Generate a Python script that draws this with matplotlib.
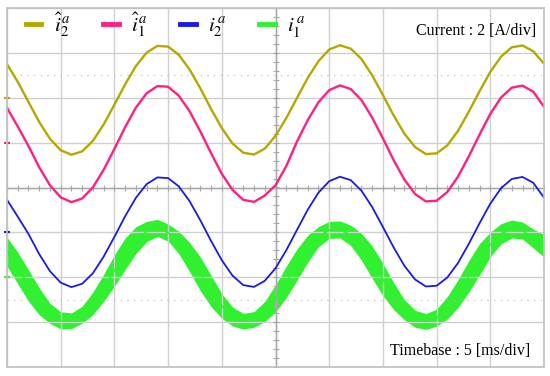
import numpy as np
import matplotlib
matplotlib.use('Agg')
import matplotlib.pyplot as plt

# oscilloscope capture: 5 ms/div, 2 A/div (traces shown with channel offsets)
t_ms = list(range(0, 51))

i2_hat = [5.50, 4.71, 3.81, 2.92, 2.17, 1.66, 1.46, 1.61, 2.08, 2.81,
          3.69, 4.60, 5.41, 6.01, 6.31, 6.28, 5.91, 5.26, 4.42, 3.50,
          2.65, 1.96, 1.55, 1.47, 1.73, 2.30, 3.09, 3.99, 4.88, 5.63,
          6.15, 6.34, 6.19, 5.73, 5.00, 4.12, 3.21, 2.40, 1.80, 1.49,
          1.52, 1.88, 2.53, 3.38, 4.29, 5.15, 5.83, 6.25, 6.33, 6.07, 5.52]

i1_hat = [3.55, 2.72, 1.85, 0.90, 0.10, -0.44, -0.65, -0.49, 0.01, 0.79,
          1.72, 2.69, 3.56, 4.20, 4.52, 4.49, 4.09, 3.40, 2.50, 1.53,
          0.61, -0.11, -0.55, -0.64, -0.36, 0.10, 0.95, 2.05, 3.00, 3.80,
          4.34, 4.55, 4.39, 3.90, 3.12, 2.19, 1.22, 0.35, -0.29, -0.62,
          -0.59, -0.20, 0.49, 1.39, 2.36, 3.28, 4.01, 4.45, 4.54, 4.27, 3.60]

i2 = [-0.55, -1.30, -2.07, -2.97, -3.73, -4.24, -4.44, -4.29, -3.82, -3.08,
      -2.20, -1.28, -0.46, 0.15, 0.45, 0.42, 0.05, -0.61, -1.46, -2.38,
      -3.24, -3.93, -4.35, -4.43, -4.16, -3.60, -2.80, -1.89, -0.99, -0.23,
      0.28, 0.48, 0.33, -0.14, -0.87, -1.76, -2.67, -3.49, -4.10, -4.41,
      -4.38, -4.01, -3.36, -2.51, -1.59, -0.72, -0.03, 0.38, 0.47, 0.21, -0.45]

i1 = [-2.86, -3.59, -4.37, -5.07, -5.61, -5.92, -5.94, -5.67, -5.16, -4.47,
      -3.70, -2.95, -2.35, -1.96, -1.80, -2.01, -2.45, -3.10, -3.85, -4.61,
      -5.28, -5.75, -5.96, -5.88, -5.53, -4.94, -4.21, -3.44, -2.73, -2.19,
      -1.89, -1.87, -2.13, -2.64, -3.33, -4.10, -4.84, -5.45, -5.85, -5.97,
      -5.80, -5.36, -4.72, -3.96, -3.20, -2.54, -2.06, -1.85, -1.92, -2.27, -2.60]

# half height of the switching ripple band on i1
i1_ripple = [0.65, 0.70, 0.70, 0.60, 0.45, 0.38, 0.35, 0.38, 0.50, 0.60,
             0.70, 0.70, 0.60, 0.45, 0.38, 0.38, 0.50, 0.65, 0.75, 0.70,
             0.55, 0.42, 0.35, 0.35, 0.45, 0.60, 0.70, 0.70, 0.60, 0.45,
             0.38, 0.38, 0.45, 0.60, 0.72, 0.72, 0.60, 0.45, 0.38, 0.35,
             0.38, 0.50, 0.62, 0.70, 0.70, 0.55, 0.45, 0.40, 0.38, 0.42, 0.50]

channel_ref = [4, 2, -2, -4]

plt.rcParams['mathtext.fontset'] = 'stix'

fig = plt.figure(figsize=(5.5, 3.76), dpi=100)
ax = fig.add_axes([7 / 550, 1 - 367 / 376, 537 / 550, 359 / 376])

col_y = '#b5a800'
col_p = '#ff2080'
col_b = '#1a1ae6'
col_g = '#30f030'

ax.set_xlim(0, 50)
ax.set_ylim(-8, 8)
ax.set_xticks(np.arange(0, 51, 5))
ax.set_yticks(np.arange(-8, 9, 2))
ax.grid(True, color='#d0d0d0', lw=1)
ax.tick_params(length=0, labelbottom=False, labelleft=False)
for s in ax.spines.values():
    s.set_color('#c0c0c0')
    s.set_linewidth(1.2)

# center cross with minor ticks and dotted markers
ax.axhline(0, color='#a8a8a8', lw=1)
ax.axvline(25, color='#a8a8a8', lw=1)
ax.plot(np.arange(0, 50.1, 1), np.zeros(51), ls='none', marker='|',
        ms=5, color='#a8a8a8', mew=0.8)
ax.plot(np.full(41, 25.0), np.arange(-8, 8.01, 0.4), ls='none', marker='_',
        ms=5, color='#a8a8a8', mew=0.8)
for yy in (5, -5):
    ax.axhline(yy, color='#b8b8b8', lw=0.8, ls=(0, (1, 5)))

ax.plot(t_ms, i2_hat, color=col_y, lw=1.7, label=r'$\hat{i}_2^{\,a}$')
ax.plot(t_ms, i1_hat, color=col_p, lw=1.7, label=r'$\hat{i}_1^{\,a}$')
ax.plot(t_ms, i2, color=col_b, lw=1.3, label=r'$i_2^{\,a}$')
lo = [c - r for c, r in zip(i1, i1_ripple)]
hi = [c + r for c, r in zip(i1, i1_ripple)]
ax.fill_between(t_ms, lo, hi, color=col_g, lw=0)
ax.plot(t_ms, i1, color=col_g, lw=1.2, label=r'$i_1^{\,a}$')

# channel ground markers at left edge
for yy, c in zip(channel_ref, [col_y, col_p, col_b, col_g]):
    ax.plot([0], [yy], marker='_', ms=4, mew=1.5, color=c, clip_on=False)

leg = ax.legend(ncol=4, loc='upper left', bbox_to_anchor=(0.0, 1.045),
                frameon=False, fontsize=15, handlelength=0.75,
                handletextpad=0.6, columnspacing=1.55)
for ln in leg.get_lines():
    ln.set_linewidth(3.5)

ax.text(0.985, 0.935, 'Current : 2 [A/div]', transform=ax.transAxes,
        ha='right', va='center', family='Liberation Serif', fontsize=11.5)
ax.text(0.975, 0.045, 'Timebase : 5 [ms/div]', transform=ax.transAxes,
        ha='right', va='center', family='Liberation Serif', fontsize=11.5)

fig.savefig('out.png', dpi=100, facecolor='white')
